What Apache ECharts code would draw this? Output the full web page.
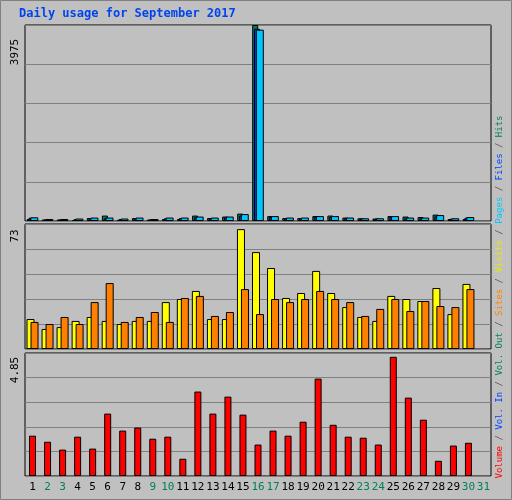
<!DOCTYPE html>
<html>
<head>
<meta charset="utf-8">
<title>Daily usage for September 2017</title>
<script src="https://cdn.jsdelivr.net/npm/echarts@6/dist/echarts.min.js"></script>
<style>
	body { margin: 0; background: #fff; }
	#chart { width: 512px; height: 500px; }
</style>
</head>
<body>
<div id="chart"></div>
<script>
var days = [];
for (var d = 1; d <= 31; d++) days.push(String(d));
var weekend = ['2', '3', '9', '10', '16', '17', '23', '24', '30', '31'];

var hits = [75, 40, 40, 50, 70, 70, 50, 70, 40, 70, 70, 90, 70, 90, 140, 3880, 100, 70, 70, 100, 100, 70, 55, 55, 100, 70, 70, 120, 55, 80];
var files = [65, 30, 30, 40, 55, 55, 40, 55, 30, 55, 60, 75, 55, 75, 110, 3900, 80, 55, 55, 80, 80, 55, 45, 45, 80, 55, 55, 95, 45, 65];
var pages = [40, 30, 30, 20, 60, 110, 25, 60, 30, 40, 40, 110, 60, 90, 150, 3975, 100, 60, 60, 100, 110, 70, 55, 50, 100, 90, 80, 130, 40, 40];
var visits = [17.5, 11.7, 12.8, 16.4, 18.7, 16.4, 14.6, 16.4, 16.4, 27.4, 29.2, 33.9, 17.5, 17.5, 70, 56.6, 47.3, 29.8, 32.7, 45.6, 32.7, 24.5, 18.7, 16.4, 31, 29.2, 28, 35.6, 20.4, 38];
var sites = [15.8, 14.6, 18.7, 14.6, 27.4, 38.5, 15.8, 18.7, 21.6, 15.8, 29.8, 31, 19.3, 21.6, 35, 20.4, 29.2, 27.4, 29.2, 33.9, 29.2, 27.4, 19.3, 23.4, 29.2, 22.2, 28, 25.1, 24.5, 35];
var volume = [1.59, 1.35, 1.04, 1.55, 1.08, 2.46, 1.79, 1.91, 1.47, 1.55, 0.68, 3.33, 2.46, 3.13, 2.42, 1.24, 1.79, 1.59, 2.14, 3.84, 2.02, 1.55, 1.51, 1.24, 4.70, 3.09, 2.22, 0.60, 1.20, 1.31];
var maxLabels = ['3975', '73', '4.85'];
var maxValues = [3975, 73, 4.85];

var font = '"DejaVu Sans Mono", monospace';
var grids = [
	{ left: 25, right: 21, top: 25, height: 196 },
	{ left: 25, right: 21, top: 224, height: 125 },
	{ left: 25, right: 21, top: 353, height: 123 }
];
grids.forEach(function (g) {
	g.show = true; g.backgroundColor = '#c0c0c0'; g.borderColor = '#000'; g.borderWidth = 1;
});

function xAx(i) {
	return {
		type: 'category', data: days, gridIndex: i,
		axisLine: { show: false }, axisTick: { show: false },
		axisLabel: {
			show: i === 2, interval: 0, fontFamily: font, fontSize: 11, margin: 6,
			color: function (v) { return weekend.indexOf(v) >= 0 ? '#00805c' : '#000'; }
		}
	};
}
function yAx(i) {
	return {
		type: 'value', gridIndex: i, min: 0, max: maxValues[i], interval: maxValues[i] / 5,
		axisLabel: { show: false }, axisLine: { show: false }, axisTick: { show: false },
		splitLine: { lineStyle: { color: '#808080', width: 1 } }
	};
}
function bar(name, data, color, i, width, gap) {
	return {
		name: name, type: 'bar', data: data, xAxisIndex: i, yAxisIndex: i,
		barWidth: width, barGap: gap, animation: false,
		itemStyle: { color: color, borderColor: '#000', borderWidth: 1 }
	};
}

var rich = {
	hits: { fill: '#00805c' }, files: { fill: '#0044ff' }, pages: { fill: '#00c8ff' },
	visits: { fill: '#e8e800' }, sites: { fill: '#ff8000' }, out: { fill: '#00805c' },
	vin: { fill: '#0044ff' }, vol: { fill: '#ff0000' }, s: { fill: '#505050' }
};
var legendText = '{vol|Volume} {s|/} {vin|Vol. In} {s|/} {out|Vol. Out} {s|/} {sites|Sites} {s|/} {visits|Visits} {s|/} {pages|Pages} {s|/} {files|Files} {s|/} {hits|Hits}';

var graphics = [
	{ type: 'rect', left: 0, top: 0, shape: { width: 511, height: 499 }, style: { fill: '#c0c0c0', stroke: '#808080', lineWidth: 1 }, z: -10 },
	{ type: 'text', left: 19, top: 8, style: { text: 'Daily usage for September 2017', fill: '#0044ee', font: 'bold 12px ' + font } },
	{ type: 'text', x: 500, y: 297, rotation: Math.PI / 2, style: { text: legendText, rich: rich, fill: '#505050', font: '9px ' + font, align: 'center', verticalAlign: 'middle' } }
];
var labelY = [52, 236, 370];
maxLabels.forEach(function (t, i) {
	graphics.push({ type: 'text', x: 15, y: labelY[i], rotation: Math.PI / 2,
		style: { text: t, fill: '#000', font: '11px ' + font, align: 'center', verticalAlign: 'middle' } });
});

var chart = echarts.init(document.getElementById('chart'));
chart.setOption({
	animation: false,
	backgroundColor: '#c0c0c0',
	grid: grids,
	xAxis: [xAx(0), xAx(1), xAx(2)],
	yAxis: [yAx(0), yAx(1), yAx(2)],
	graphic: graphics,
	series: [
		bar('Pages', pages, '#00805c', 0, 6, '-70%'),
		bar('Files', files, '#0044ff', 0, 6, '-70%'),
		bar('Hits', hits, '#00c8ff', 0, 8, '-70%'),
		bar('Visits', visits, '#ffff00', 1, 8, '-50%'),
		bar('Sites', sites, '#ff8000', 1, 8, '-50%'),
		bar('Volume', volume, '#ff0000', 2, 7, '0%')
	]
});
</script>
</body>
</html>
